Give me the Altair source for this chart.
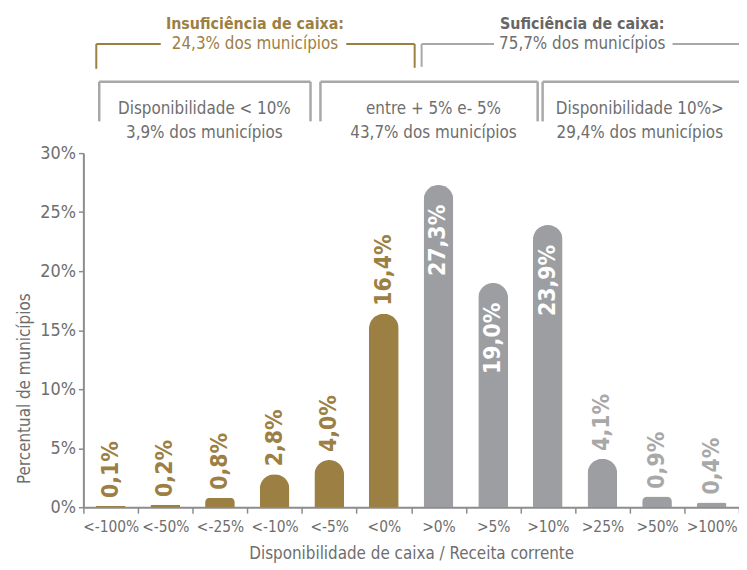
import altair as alt
import pandas as pd

# ---- data ----
categories = ["<-100%", "<-50%", "<-25%", "<-10%", "<-5%", "<0%",
              ">0%", ">5%", ">10%", ">25%", ">50%", ">100%"]
values = [0.1, 0.2, 0.8, 2.8, 4.0, 16.4, 27.3, 19.0, 23.9, 4.1, 0.9, 0.4]
groups = ["Insuficiência"] * 6 + ["Suficiência"] * 6
y_ticks = [0, 5, 10, 15, 20, 25, 30]

labels = [f"{v:.1f}".replace(".", ",") + "%" for v in values]
df = pd.DataFrame({"cat": categories, "val": values, "grp": groups, "lab": labels})

GOLD = "#9c7f43"
GRAY = "#9d9ea1"
LGRAY = "#a8a8a8"
TXT = "#6e6e6e"
NARROW = "DejaVu Sans Condensed"
BOLDF = "DejaVu Sans Condensed"

W, H = 661, 357

base = alt.Chart(df)

x_enc = alt.X("cat:N", sort=categories, scale=alt.Scale(paddingInner=0, paddingOuter=0),
              axis=alt.Axis(title="Disponibilidade de caixa / Receita corrente", labelAngle=0,
                            tickBand="extent", tickSize=6, labelPadding=6, titlePadding=11,
                            labelFontSize=15.5))
y_enc = alt.Y("val:Q", scale=alt.Scale(domain=[0, 30], nice=False),
              axis=alt.Axis(title="Percentual de municípios", values=y_ticks,
                            labelExpr="datum.value + '%'", tickSize=5, labelPadding=3,
                            grid=False, titleX=-59, titleY=237, titleBaseline="middle",
                            titleAlign="center"))

bars = base.mark_bar(width=30, cornerRadiusTopLeft=15, cornerRadiusTopRight=15).encode(
    x=x_enc, y=y_enc,
    color=alt.Color("grp:N", scale=alt.Scale(domain=["Insuficiência", "Suficiência"],
                                             range=[GOLD, GRAY]), legend=None),
)

txt_out = base.transform_filter(
    "datum.grp == 'Insuficiência' || datum.val < 10"
).mark_text(angle=270, align="left", baseline="middle", dx=8, font=BOLDF,
            fontWeight="bold", fontSize=23).encode(
    x=alt.X("cat:N", sort=categories), y="val:Q", text="lab:N",
    color=alt.Color("grp:N", scale=alt.Scale(domain=["Insuficiência", "Suficiência"],
                                             range=[GOLD, LGRAY]), legend=None),
)

txt_in = base.transform_filter(
    "datum.grp == 'Suficiência' && datum.val >= 10"
).mark_text(angle=270, align="right", baseline="middle", dx=-20, font=BOLDF,
            fontWeight="bold", fontSize=23, color="white").encode(
    x=alt.X("cat:N", sort=categories), y="val:Q", text="lab:N",
)

one = alt.Chart(pd.DataFrame({"k": [0]}))


def seg(x1, y1, x2, y2, color, w=2):
    return one.mark_rule(color=color, strokeWidth=w).encode(
        x=alt.value(x1), x2=alt.value(x2), y=alt.value(y1), y2=alt.value(y2))


def label(x, y, s, color, size=17, bold=False):
    return one.mark_text(text=s, color=color, fontSize=size, font=NARROW,
                         fontWeight="bold" if bold else "normal",
                         align="center", baseline="middle").encode(
        x=alt.value(x), y=alt.value(y))


ann = [
    # Insuficiência bracket
    seg(13, -85, 13, -110, GOLD), seg(13, -110, 78, -110, GOLD),
    seg(265, -110, 334, -110, GOLD), seg(334, -110, 334, -86, GOLD),
    label(173, -130, "Insuficiência de caixa:", GOLD, 16, True),
    label(173, -110, "24,3% dos municípios", GOLD, 17),
    # Suficiência bracket
    seg(341, -87, 341, -110, LGRAY), seg(341, -110, 414, -110, LGRAY),
    seg(594, -110, 661, -110, LGRAY),
    label(503, -130, "Suficiência de caixa:", "#666666", 16, True),
    label(503, -110, "75,7% dos municípios", TXT, 17),
    # boxes
    seg(16, -72, 229, -72, LGRAY, 2.5), seg(16, -72, 16, -32, LGRAY, 2.5),
    seg(229, -72, 229, -32, LGRAY, 2.5),
    seg(239, -72, 458, -72, LGRAY, 2.5), seg(239, -72, 239, -32, LGRAY, 2.5),
    seg(458, -72, 458, -32, LGRAY, 2.5),
    seg(463, -72, 661, -72, LGRAY, 2.5), seg(463, -72, 463, -32, LGRAY, 2.5),
    label(122, -44, "Disponibilidade < 10%", TXT, 17),
    label(122, -20, "3,9% dos municípios", TXT, 17),
    label(353, -44, "entre + 5% e- 5%", TXT, 17),
    label(353, -20, "43,7% dos municípios", TXT, 17),
    label(561, -44, "Disponibilidade 10%>", TXT, 17),
    label(561, -20, "29,4% dos municípios", TXT, 17),
]

chart = alt.layer(bars, txt_out, txt_in, *ann).resolve_scale(color="independent").properties(
    width=W, height=H,
    autosize=alt.AutoSizeParams(type="none"),
    padding={"left": 76, "top": 144, "right": 0, "bottom": 60},
).configure_view(stroke=None).configure_axis(
    labelFont=NARROW, titleFont=NARROW, labelFontSize=18, titleFontSize=17,
    labelColor=TXT, titleColor=TXT, titleFontWeight="normal",
    domainColor="#8c8c8c", domainWidth=2, tickColor="#8c8c8c", tickWidth=1.5,
)

chart.save("out.html", embed_options={"renderer": "svg", "actions": False})
